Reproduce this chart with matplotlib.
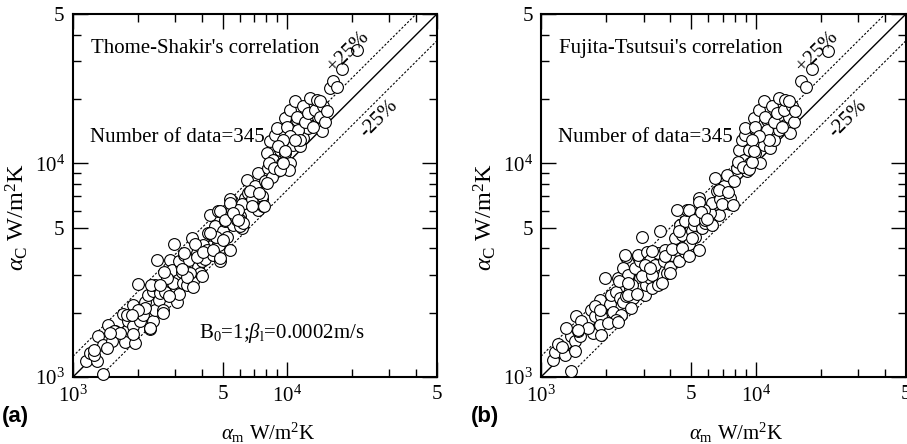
import matplotlib as mpl
mpl.use('Agg')
import matplotlib.pyplot as plt
import numpy as np
from matplotlib.ticker import FixedLocator, NullFormatter, FixedFormatter

mpl.rc('font', family='Liberation Serif', size=15)
mpl.rc('mathtext', fontset='custom', rm='Liberation Serif',
       it='Liberation Serif:italic', bf='Liberation Serif:bold')

am_a = [1150, 1200, 1298, 1312, 1375, 1385, 1461, 1514, 1570, 1747, 1716, 1811,
        1897, 1897, 1945, 1910, 2015, 2052, 2128, 2165, 2245, 2351, 2368, 2285,
        2411, 2499, 2526, 2637, 2684, 2832, 2883, 2935, 3042, 3130, 3209, 3268,
        3327, 2454, 2165, 2015, 1778, 1553, 1435, 1252, 2419, 2553, 2694, 2742,
        2966, 3108, 3222, 3280, 3398, 3497, 3586, 3625, 3784, 3852, 3922, 3992,
        4064, 4138, 4213, 4365, 4444, 4524, 4606, 4774, 4774, 4860, 5037, 5128,
        5221, 5411, 5508, 5608, 5710, 5813, 6025, 6134, 6357, 6708, 6828, 7203,
        7333, 7601, 2647, 3718, 4289, 3522, 4860, 5128, 5411, 5508, 5710, 6025,
        6134, 6470, 6590, 6828, 7075, 7333, 7601, 7877, 8163, 8020, 8310, 8615,
        8770, 8930, 9255, 9420, 9590, 9760, 9940, 10120, 10300, 10490, 10680, 11070,
        11270, 11470, 11890, 12100, 12540, 13000, 13480, 13960, 14470, 8930, 5917, 9760,
        9940, 10300, 10870, 11070, 11270, 11890, 12100, 12540, 12750, 13230, 13480, 13700,
        14210, 14740, 15000, 15270, 14210, 15830, 16400, 17930, 21070, 11470, 10300, 9590,
        10870, 9090, 8460, 10230, 6025, 6245, 4826, 4656, 3398, 17000, 8020, 7737,
        6828, 1662, 1884, 2277, 2310, 2553, 2627, 2793, 3222, 3303, 3650, 3784,
        3992, 4064, 4365, 4524, 4860, 5037, 5411, 5568, 5917, 6708, 7413, 7795,
        8253, 8675, 9255, 9590, 9760, 1482, 1248]
ac_a = [1192, 1293, 1192, 1547, 1415, 1032, 1757, 1479, 1644, 1459, 1966, 1818,
        1741, 2173, 1442, 1587, 2715, 1818, 1951, 2254, 2420, 2526, 1818, 1680,
        2059, 2650, 2295, 2059, 2526, 3522, 3163, 2744, 2254, 2436, 3337, 2744,
        3051, 3522, 2099, 2059, 1951, 1633, 1365, 1271, 2700, 2470, 2510, 2905,
        4212, 3480, 3106, 3718, 2700, 3522, 4460, 2800, 3788, 3283, 3051, 3480,
        4130, 3580, 3930, 5750, 4630, 3718, 5070, 5960, 4212, 3480, 4805, 5360,
        4543, 3930, 6650, 5170, 5960, 5450, 5660, 4975, 6900, 6420, 7420, 7150,
        6060, 6770, 3106, 4212, 4715, 3051, 5960, 5450, 6770, 6060, 5660, 5450,
        6420, 8380, 7290, 6770, 7800, 8980, 7020, 8220, 9500, 11160, 12650, 10360,
        13600, 9190, 11560, 10000, 14350, 11160, 16530, 12880, 10000, 15110, 12210, 15940,
        13850, 11990, 13110, 15390, 14570, 16820, 15110, 16530, 14090, 14570, 6060, 16240,
        14850, 17850, 19520, 16530, 14350, 18500, 15660, 17200, 20200, 14850, 17850, 19880,
        16530, 18500, 15660, 17530, 19520, 22450, 24150, 27480, 34000, 12880, 13370, 12880,
        12880, 11990, 8660, 9340, 5070, 5260, 4130, 4543, 2940, 22700, 8070, 6280,
        6280, 1604, 1951, 1695, 2700, 2700, 1992, 2380, 3200, 3788, 2650, 3660,
        2955, 3864, 4715, 3930, 3600, 4380, 6530, 5850, 5450, 7420, 7290, 6280,
        10000, 9500, 9340, 10000, 11360, 1604, 1342]

am_b = [1137, 1166, 1289, 1385, 1200, 1375, 1435, 1461, 1312, 1514, 1542, 1487,
        1747, 1716, 1778, 1897, 1877, 1910, 1877, 1980, 2090, 2128, 2165, 2245,
        2285, 2368, 2327, 2411, 2499, 2526, 2590, 2684, 2732, 2832, 2883, 2935,
        3042, 3097, 3209, 3268, 3327, 2499, 2832, 3209, 2245, 2052, 1778, 1435,
        2463, 2419, 2553, 2647, 2742, 2893, 2946, 2842, 2966, 3108, 3222, 3280,
        3398, 3522, 3586, 3718, 3784, 3852, 3992, 4064, 4213, 4289, 4365, 4444,
        4524, 4690, 4690, 4774, 4860, 5037, 5128, 5221, 5411, 5508, 5608, 5813,
        5917, 6025, 6245, 6470, 6708, 6828, 7203, 7333, 7601, 4289, 3053, 3522,
        2553, 4860, 5128, 5411, 5608, 5813, 6134, 6245, 6470, 6590, 6828, 7075,
        7333, 7601, 7877, 8163, 8310, 8615, 8770, 8930, 9090, 9255, 9420, 9760,
        9940, 10120, 10300, 10490, 10680, 10870, 11270, 11470, 11680, 12100, 12320, 12750,
        13230, 13700, 14210, 14470, 8930, 6950, 5710, 9760, 9940, 10300, 10870, 11070,
        11270, 11890, 12100, 12540, 12750, 13230, 13480, 13700, 14740, 15000, 15270, 14210,
        16290, 17180, 18320, 21680, 11470, 10300, 9590, 1662, 1884, 2277, 2310, 2553,
        2627, 2793, 3222, 3303, 3650, 3784, 3992, 4064, 4365, 4524, 4860, 5037,
        5411, 5568, 5917, 6708, 7413, 7795, 8253, 8675, 9255, 9590, 9760, 1482,
        1248]
ac_b = [1205, 1308, 1271, 1063, 1427, 1560, 1479, 1922, 1695, 1547, 1818, 1644,
        1604, 2059, 1922, 1922, 1757, 1577, 2295, 2905, 2190, 2420, 2020, 2510,
        2905, 1951, 2337, 2254, 2380, 2905, 2605, 2337, 2650, 3223, 2905, 2605,
        2420, 2700, 2905, 2605, 3163, 3660, 3660, 3600, 1851, 1788, 2140, 1318,
        3718, 3223, 3010, 2700, 3223, 3480, 2955, 3718, 4495, 3864, 3522, 3010,
        3337, 3788, 4805, 3480, 3930, 3051, 3283, 3718, 4460, 3930, 3480, 5170,
        4630, 3864, 5360, 6060, 4212, 4805, 5170, 4543, 3930, 5550, 4975, 5260,
        5960, 5550, 5170, 6420, 5750, 6900, 6530, 7420, 6420, 6060, 3337, 2700,
        2420, 6060, 5450, 6900, 6060, 5450, 5850, 6530, 8510, 7420, 6770, 7800,
        8840, 6900, 8220, 9500, 11560, 12880, 10360, 13600, 9190, 11560, 10000, 14570,
        11160, 16530, 12650, 10000, 15110, 12210, 15940, 13600, 11760, 12880, 15390, 14350,
        16530, 15110, 16530, 13850, 14570, 6420, 6060, 16240, 14850, 17850, 19520, 16530,
        14350, 18500, 15660, 17200, 20200, 14850, 17850, 19880, 18500, 15660, 17530, 19520,
        24150, 22700, 27480, 33600, 12880, 13370, 12880, 1700, 2050, 1800, 2800, 2750,
        2100, 2450, 3250, 3900, 2750, 3700, 3050, 3950, 4800, 4000, 3700, 4450,
        6600, 5900, 5500, 7500, 7300, 6350, 10100, 9600, 9400, 10100, 11400, 1650,
        1380]

lo, hi = 1e3, 5e4
major = [1e3, 5e3, 1e4, 5e4]
majlabels = [r'$10^{3}$', '5', r'$10^{4}$', '5']
minor = [2e3, 3e3, 4e3, 6e3, 7e3, 8e3, 9e3, 2e4, 3e4, 4e4]

fig = plt.figure(figsize=(9.07, 4.44), dpi=100)
ax_a = fig.add_axes([0.0805, 0.151, 0.4013, 0.8176])
ax_b = fig.add_axes([0.5965, 0.151, 0.4024, 0.8176])

panels = [(ax_a, am_a, ac_a, "Thome-Shakir's correlation"),
          (ax_b, am_b, ac_b, "Fujita-Tsutsui's correlation")]

for ax, am, ac, title in panels:
    ref = np.array([lo, hi])
    ax.plot(ref, ref, color='k', lw=1.0, zorder=1)
    ax.plot(ref, 1.25*ref, color='k', lw=0.8, ls=(0, (2, 1.6)), zorder=1)
    ax.plot(ref, 0.75*ref, color='k', lw=0.8, ls=(0, (2, 1.6)), zorder=1)
    ax.scatter(am, ac, s=72, facecolor='white', edgecolor='black',
               linewidth=0.8, zorder=3, clip_on=False)
    ax.set_xscale('log')
    ax.set_yscale('log')
    ax.set(xlim=(lo, hi), ylim=(lo, hi))
    for axis in (ax.xaxis, ax.yaxis):
        axis.set_major_locator(FixedLocator(major))
        axis.set_major_formatter(FixedFormatter(majlabels))
        axis.set_minor_locator(FixedLocator(minor))
        axis.set_minor_formatter(NullFormatter())
    ax.tick_params(which='both', direction='in', top=True, right=True, width=1.0)
    ax.tick_params(which='major', length=11, labelsize=15, pad=6)
    ax.tick_params(which='minor', length=5.5)
    for sp in ax.spines.values():
        sp.set_linewidth(1.5)

    ax.set_xlabel(r'$\alpha_{\mathrm{m}}$ W/m$^2$K', fontsize=15)
    ax.xaxis.set_label_coords(0.536, -0.12)
    ax.set_ylabel(r'$\alpha_{\mathrm{C}}$ W/m$^2$K', fontsize=17.5)
    ax.yaxis.set_label_coords(-0.118, 0.44)

    ax.text(0.049, 0.906, title, transform=ax.transAxes, va='center', ha='left')
    ax.text(0.047, 0.661, 'Number of data=345', transform=ax.transAxes,
            va='center', ha='left')
    ax.text(0.757, 0.895, '+25%', transform=ax.transAxes, rotation=45,
            ha='center', va='center')
    ax.text(0.842, 0.711, '-25%', transform=ax.transAxes, rotation=45,
            ha='center', va='center')

ax_a.text(0.346, 0.121, r'B$_0$=1;$\beta_{\mathrm{l}}$=0.0002m/s',
          transform=ax_a.transAxes, va='center', ha='left')

fig.text(0.002, 0.063, '(a)', family='Liberation Sans', weight='bold',
         fontsize=16, va='center', ha='left')
fig.text(0.519, 0.063, '(b)', family='Liberation Sans', weight='bold',
         fontsize=16, va='center', ha='left')

fig.savefig('out.png', dpi=100)
